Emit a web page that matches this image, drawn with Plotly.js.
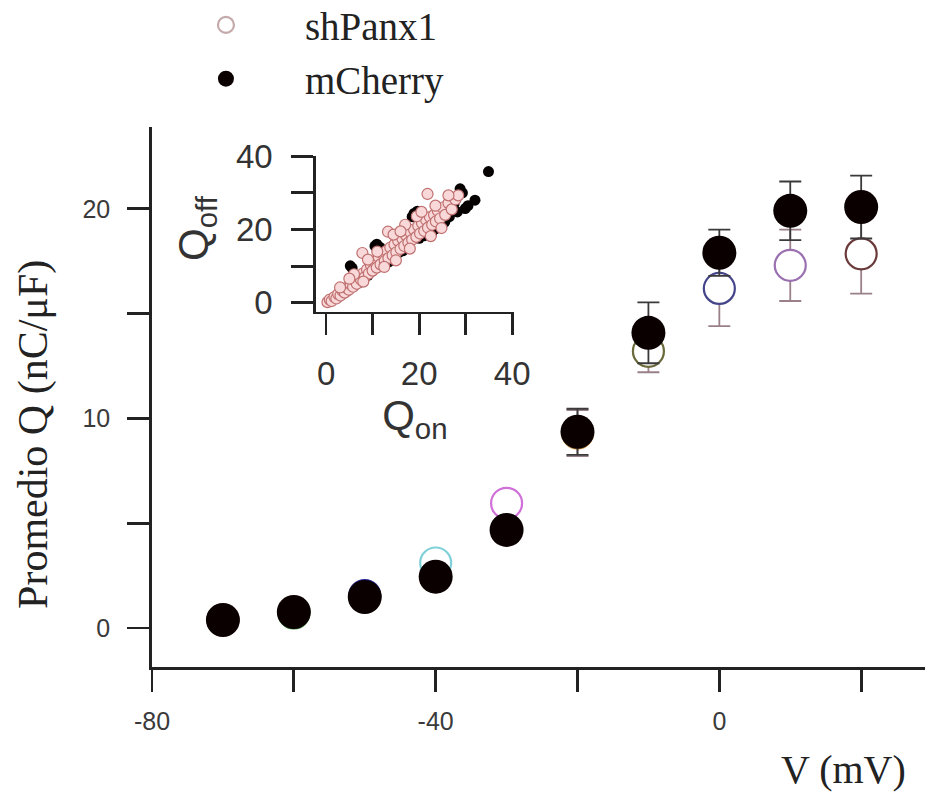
<!DOCTYPE html>
<html>
<head>
<meta charset="utf-8">
<script src="https://cdn.plot.ly/plotly-3.0.1.min.js"></script>
<style>html,body{margin:0;padding:0;background:#fff;}#chart{width:930px;height:793px;}</style>
</head>
<body>
<div id="chart"></div>
<script>
// Main plot data
const voltages = [-70, -60, -50, -40, -30, -20, -10, 0, 10, 20];
const shPanx1Q = [0.38, 0.72, 1.55, 3.1, 5.95, 9.3, 13.2, 16.2, 17.3, 17.85];
const shPanx1Err = [0.2, 0.2, 0.25, 0.3, 0.3, 1.1, 1.0, 1.8, 1.7, 1.9];
const mCherryQ = [0.38, 0.76, 1.48, 2.45, 4.68, 9.36, 14.08, 17.9, 19.9, 20.08];
const mCherryErr = [0.2, 0.2, 0.2, 0.2, 0.2, 1.1, 1.45, 1.1, 1.4, 1.5];
const shPanx1Edge = ["#c4aaaa", "#3a8a3a", "#2a2a9a", "#80d0d8", "#d070d8", "#c89040", "#6a6a3a", "#45458a", "#9a70b0", "#6a3a3a"];

// Inset data (Qon, Qoff)
const insetPinkQon = [0.3,0.8,1.2,1.8,2.2,2.6,3.1,3.5,4.0,4.4,4.9,5.3,5.8,6.2,6.6,7.0,7.5,7.9,8.3,8.8,9.2,9.6,10.0,10.4,10.9,11.3,11.7,12.1,12.6,13.0,13.4,13.8,14.3,14.7,15.1,15.5,16.0,16.4,16.8,17.2,17.7,18.1,18.5,18.9,19.4,19.8,20.2,20.6,21.1,21.5,21.9,22.3,22.8,23.2,23.6,24.0,24.5,25.0,25.6,26.3,27.0,27.8,28.4,26.3,21.8,13.3,7.8,14.5,17.0,19.5,6.0,3.0,9.0,20.5,23.5,11.0,16.0,5.0,12.5,18.0,22.5,15.0,8.0,24.8];
const insetPinkQoff = [0.2,0.9,0.5,1.6,1.2,2.4,2.0,3.3,2.8,4.1,3.6,5.0,4.4,6.1,5.2,7.2,6.3,8.0,7.0,9.1,8.0,10.4,8.8,11.2,9.6,12.5,10.5,13.4,11.4,14.2,12.2,15.1,13.0,15.9,13.8,16.9,14.7,17.5,15.5,18.4,16.4,19.3,17.2,20.0,18.0,21.0,18.9,21.8,19.6,22.6,20.5,23.4,21.3,24.0,22.2,25.1,23.0,26.0,24.0,27.2,25.5,28.2,29.3,29.3,29.7,19.4,13.6,18.6,21.3,23.6,7.8,4.2,11.8,24.8,26.5,14.0,19.5,6.6,9.8,14.8,18.2,11.6,5.8,20.4];
const insetBlackQon = [0.5,1.5,2.5,3.6,4.5,5.2,5.6,6.0,7.2,8.4,9.0,10.5,10.9,11.5,12.0,12.5,13.5,14.8,15.6,16.5,17.2,18.5,18.9,19.6,20.0,21.0,22.7,23.5,24.5,25.5,26.5,27.5,28.2,28.8,29.3,29.9,30.5,32.0,34.9,6.5,9.8];
const insetBlackQoff = [0.3,1.0,1.6,2.6,3.2,10.1,9.5,4.6,5.6,7.0,7.5,15.5,16.0,15.2,14.6,10.2,11.2,12.4,13.7,14.2,15.0,23.5,24.4,25.0,17.6,18.3,19.0,20.2,21.0,22.0,23.5,27.0,24.8,31.1,30.0,25.7,26.5,28.0,35.8,6.2,8.6];

const mainTickX = [-80, -60, -40, -20, 0, 20];
const mainTickXText = ["-80", "", "-40", "", "0", ""];
const mainTickY = [0, 5, 10, 15, 20];
const mainTickYText = ["0", "", "10", "", "20"];
const insetTicks = [0, 10, 20, 30, 40];
const insetTickText = ["0", "", "20", "", "40"];

const serif = 'Liberation Serif, Times New Roman, serif';
const sans = 'Liberation Sans, Arial, sans-serif';

const traces = [
  {
    x: insetBlackQon, y: insetBlackQoff, xaxis: 'x2', yaxis: 'y2',
    type: 'scatter', mode: 'markers', showlegend: false,
    marker: {size: 11, color: '#050000', line: {width: 0}}
  },
  {
    x: insetPinkQon, y: insetPinkQoff, xaxis: 'x2', yaxis: 'y2',
    type: 'scatter', mode: 'markers', showlegend: false,
    marker: {size: 11, color: '#f8d8d8', line: {width: 1.2, color: '#c07070'}}
  },
  {
    x: voltages, y: shPanx1Q, type: 'scatter', mode: 'markers', name: 'shPanx1',
    error_y: {type: 'data', array: shPanx1Err, color: '#9a8088', thickness: 1.8, width: 11},
    marker: {size: 31, color: '#ffffff', line: {width: 2.2, color: shPanx1Edge}}
  },
  {
    x: voltages, y: mCherryQ, type: 'scatter', mode: 'markers', name: 'mCherry',
    error_y: {type: 'data', array: mCherryErr, color: '#3a3a3a', thickness: 1.8, width: 11},
    marker: {size: 34, color: '#0a0000', line: {width: 0}}
  }
];

const axisFont = {family: sans, size: 25, color: '#3a3a3a'};
const insetFont = {family: sans, size: 33, color: '#333'};
const layout = {
  width: 930, height: 793,
  paper_bgcolor: '#fff', plot_bgcolor: 'rgba(0,0,0,0)',
  margin: {l: 152, r: 5, t: 127, b: 126, autoexpand: false},
  showlegend: true,
  legend: {
    x: 0.158, y: 1.248, xanchor: 'left', yanchor: 'top', xref: 'container', yref: 'paper',
    font: {family: serif, size: 39, color: '#222'},
    traceorder: 'normal', itemwidth: 148, itemsizing: 'trace',
    bgcolor: 'rgba(0,0,0,0)', borderwidth: 0
  },
  xaxis: {
    range: [-80, 29], showgrid: false, zeroline: false,
    showline: true, linecolor: '#222', linewidth: 2.8,
    ticks: 'outside', ticklen: 22, tickwidth: 2.8, tickcolor: '#222',
    tickvals: mainTickX, ticktext: mainTickXText, tickfont: axisFont,
    ticklabelstandoff: 8
  },
  yaxis: {
    range: [-1.86, 23.9], showgrid: false, zeroline: false,
    showline: true, linecolor: '#222', linewidth: 2.8,
    ticks: 'outside', ticklen: 22, tickwidth: 2.8, tickcolor: '#222',
    tickvals: mainTickY, ticktext: mainTickYText, tickfont: axisFont,
    ticklabelstandoff: 12
  },
  xaxis2: {
    domain: [0.2122, 0.4678], anchor: 'y2', range: [-2.16, 40.3],
    showgrid: false, zeroline: false, showline: true, linecolor: '#222', linewidth: 2.8,
    ticks: 'outside', ticklen: 21, tickwidth: 2.8, tickcolor: '#222',
    tickvals: insetTicks, ticktext: insetTickText, tickfont: insetFont,
    ticklabelstandoff: 10,
    title: {text: 'Q<sub>on</sub>', font: {family: sans, size: 42, color: '#333'}, standoff: 6}
  },
  yaxis2: {
    domain: [0.658, 0.946], anchor: 'x2', range: [-2.4, 40],
    showgrid: false, zeroline: false, showline: true, linecolor: '#222', linewidth: 2.8,
    ticks: 'outside', ticklen: 22, tickwidth: 2.8, tickcolor: '#222',
    tickvals: insetTicks, ticktext: insetTickText, tickfont: insetFont,
    ticklabelstandoff: 12
  },
  annotations: [
    {
      text: 'V (mV)', xref: 'paper', yref: 'paper', x: 0.894, y: -0.19,
      xanchor: 'center', yanchor: 'middle', showarrow: false,
      font: {family: serif, size: 40, color: '#222'}
    },
    {
      text: 'Promedio Q (nC/μF)', xref: 'paper', yref: 'paper', x: -0.1527, y: 0.4315,
      xanchor: 'center', yanchor: 'middle', showarrow: false, textangle: -90,
      font: {family: serif, size: 42, color: '#222'}
    },
    {
      text: 'Q<sub>off</sub>', xref: 'paper', yref: 'paper', x: 0.0582, y: 0.813,
      xanchor: 'center', yanchor: 'middle', showarrow: false, textangle: -90,
      font: {family: sans, size: 42, color: '#333'}
    }
  ]
};

Plotly.newPlot('chart', traces, layout, {displayModeBar: false, staticPlot: true});
</script>
</body>
</html>
